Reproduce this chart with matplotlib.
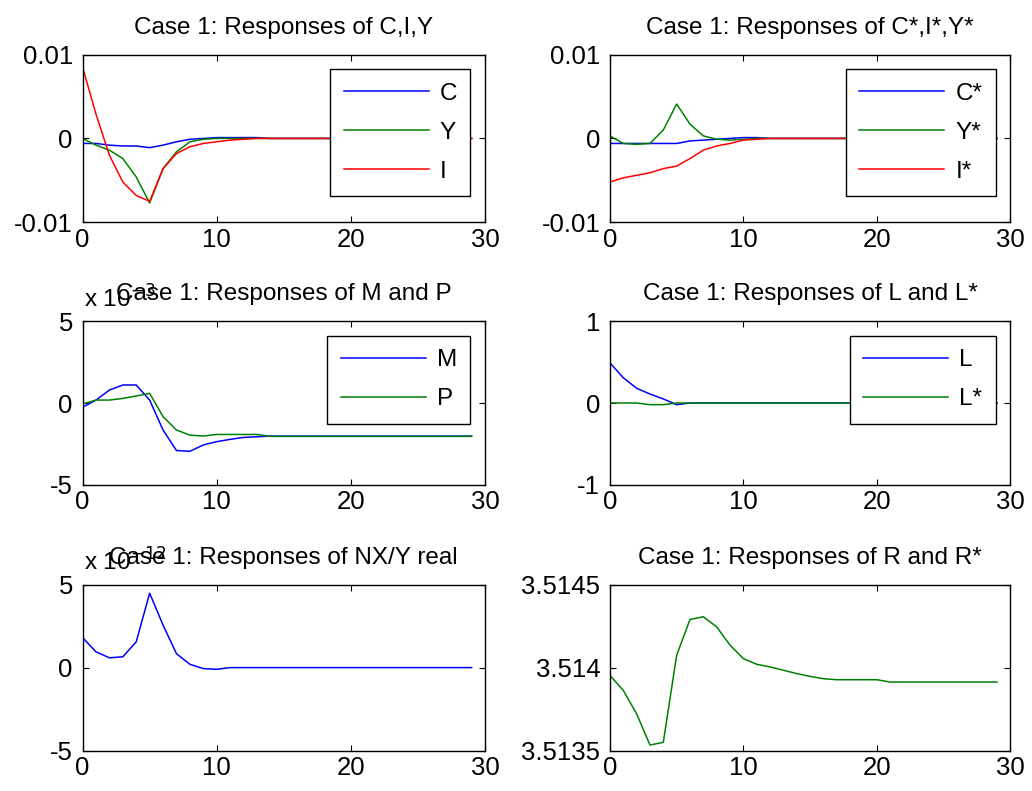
import numpy as np
import matplotlib
matplotlib.use("Agg")
import matplotlib.pyplot as plt

plt.rcParams["font.family"] = ["Liberation Sans", "DejaVu Sans"]
plt.rcParams["font.size"] = 18.5
TSIZE = 17.5   # titles, legend entries, exponent labels

t = np.arange(30)

def pad(vals, tail):
    # responses settle at a constant after the listed periods
    return np.array(vals + [tail] * (30 - len(vals)))

# Case 1: C, Y, I
C = pad([-0.0006, -0.0006, -0.0008, -0.0009, -0.0009, -0.0011, -0.0008, -0.0004,
         -0.0001, 0.0, 0.0001, 0.0001, 0.0001, 0.0001], 0.0)
Y = pad([0.0000, -0.0008, -0.0014, -0.0024, -0.0046, -0.0077, -0.0036, -0.0016,
         -0.0004, -0.0001, 0.0], 0.0)
I = pad([0.0085, 0.0029, -0.0020, -0.0052, -0.0068, -0.0075, -0.0036, -0.0018,
         -0.0010, -0.0006, -0.0004, -0.0002, -0.0001], 0.0)

# Case 1: C*, Y*, I*
Cs = pad([-0.0006, -0.0006, -0.0006, -0.0006, -0.0006, -0.0006, -0.0003, -0.0002,
          -0.0001, 0.0, 0.0001, 0.0001], 0.0)
Ys = pad([0.0003, -0.0006, -0.0007, -0.0006, 0.0010, 0.0041, 0.0017, 0.0003,
          -0.0001, -0.0002, -0.0001], 0.0)
Is = pad([-0.0052, -0.0047, -0.0044, -0.0041, -0.0036, -0.0033, -0.0024, -0.0014,
          -0.0009, -0.0006, -0.0002, -0.0001], 0.0)

# Case 1: M and P (x 10^-3)
M = pad([-0.26, 0.18, 0.79, 1.10, 1.10, 0.18, -1.65, -2.90, -2.95, -2.56,
         -2.36, -2.22, -2.10, -2.06], -2.02) * 1e-3
P = pad([-0.06, 0.18, 0.18, 0.28, 0.43, 0.59, -0.83, -1.65, -1.96, -2.02,
         -1.92, -1.92, -1.92, -1.92], -2.04) * 1e-3

# Case 1: L and L*
L = pad([0.49, 0.31, 0.18, 0.11, 0.05, -0.02], 0.0)
Ls = pad([0.0, 0.0, 0.0, -0.02, -0.02], 0.0)

# Case 1: NX/Y real (x 10^-12)
NX = pad([1.81, 0.95, 0.59, 0.65, 1.55, 4.48, 2.56, 0.84, 0.20, -0.06, -0.10], 0.0) * 1e-12

# Case 1: R and R*
R = pad([3.513953, 3.513863, 3.513722, 3.513534, 3.513550, 3.514074, 3.514290,
         3.514306, 3.514245, 3.514135, 3.514054, 3.514020, 3.514004, 3.513984,
         3.513964, 3.513947, 3.513933, 3.513927, 3.513927, 3.513927, 3.513927],
        3.513913)

BLUE, GREEN, RED = (0, 0, 1), (0, 0.5, 0), (1, 0, 0)

fig = plt.figure(figsize=(10.32, 7.91), dpi=100)
left_x, right_x = 0.080, 0.591
rows = [(0.719, 0.212), (0.387, 0.207), (0.051, 0.210)]

def make_ax(col, row, title):
    b, h = rows[row]
    ax = fig.add_axes([left_x if col == 0 else right_x, b, 0.390 if col == 0 else 0.388, h])
    ax.set_xlim(0, 30)
    ax.set_xticks([0, 10, 20, 30])
    ax.tick_params(direction="in", top=True, right=True, length=4, width=0.8)
    ax.tick_params(axis="y", pad=7)
    ax.tick_params(axis="x", pad=4)
    for s in ax.spines.values():
        s.set_linewidth(1.0)
    ax.set_title(title, pad=15, fontsize=TSIZE)
    return ax

def leg(ax):
    ax.legend(loc="upper right", fancybox=False, edgecolor="black", framealpha=1,
              fontsize=TSIZE, handlelength=3.5, labelspacing=0.7, borderpad=0.55,
              handletextpad=0.45, borderaxespad=0.6)

def expo(ax, s):
    ax.annotate(s, xy=(0, 1), xycoords="axes fraction", xytext=(1, 10),
                textcoords="offset points", ha="left", va="baseline", fontsize=TSIZE)

lw = 1.1

ax = make_ax(0, 0, "Case 1: Responses of C,I,Y")
ax.plot(t, C, color=BLUE, lw=lw, label="C")
ax.plot(t, Y, color=GREEN, lw=lw, label="Y")
ax.plot(t, I, color=RED, lw=lw, label="I")
ax.set_ylim(-0.01, 0.01)
ax.set_yticks([-0.01, 0, 0.01], ["-0.01", "0", "0.01"])
leg(ax)

ax = make_ax(1, 0, "Case 1: Responses of C*,I*,Y*")
ax.plot(t, Cs, color=BLUE, lw=lw, label="C*")
ax.plot(t, Ys, color=GREEN, lw=lw, label="Y*")
ax.plot(t, Is, color=RED, lw=lw, label="I*")
ax.set_ylim(-0.01, 0.01)
ax.set_yticks([-0.01, 0, 0.01], ["-0.01", "0", "0.01"])
leg(ax)

ax = make_ax(0, 1, "Case 1: Responses of M and P")
ax.plot(t, M, color=BLUE, lw=lw, label="M")
ax.plot(t, P, color=GREEN, lw=lw, label="P")
ax.set_ylim(-5e-3, 5e-3)
ax.set_yticks([-5e-3, 0, 5e-3], ["-5", "0", "5"])
expo(ax, r"x 10$^{-3}$")
leg(ax)

ax = make_ax(1, 1, "Case 1: Responses of L and L*")
ax.plot(t, L, color=BLUE, lw=lw, label="L")
ax.plot(t, Ls, color=GREEN, lw=lw, label="L*")
ax.set_ylim(-1, 1)
ax.set_yticks([-1, 0, 1], ["-1", "0", "1"])
leg(ax)

ax = make_ax(0, 2, "Case 1: Responses of NX/Y real")
ax.plot(t, NX, color=BLUE, lw=lw)
ax.set_ylim(-5e-12, 5e-12)
ax.set_yticks([-5e-12, 0, 5e-12], ["-5", "0", "5"])
expo(ax, r"x 10$^{-12}$")

ax = make_ax(1, 2, "Case 1: Responses of R and R*")
ax.plot(t, R, color=GREEN, lw=lw)
ax.set_ylim(3.5135, 3.5145)
ax.set_yticks([3.5135, 3.514, 3.5145], ["3.5135", "3.514", "3.5145"])

fig.savefig("out.png", dpi=100)
